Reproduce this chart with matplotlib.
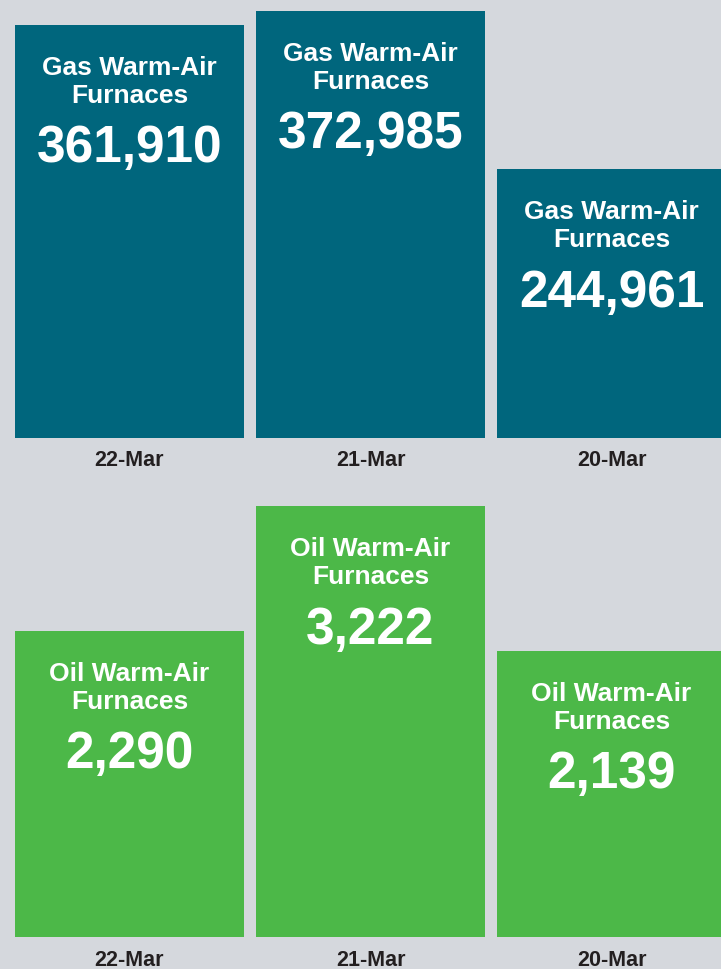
import matplotlib
matplotlib.use('Agg')
import matplotlib.pyplot as plt

dates = ['22-Mar', '21-Mar', '20-Mar']
gas_values = [361910, 372985, 244961]
oil_values = [2290, 3222, 2139]
gas_label = 'Gas Warm-Air\nFurnaces'
oil_label = 'Oil Warm-Air\nFurnaces'

BG = '#d5d8dd'
TEAL = '#00667d'
GREEN = '#4cb848'
DARK = '#231f20'
FONT = ['Liberation Sans', 'DejaVu Sans']

W, H = 721, 969
fig = plt.figure(figsize=(W / 100, H / 100), dpi=100, facecolor=BG)


def panel(top_px, base_px, values, color, label, ymin):
    ax = fig.add_axes([0, 1 - base_px / H, 1, (base_px - top_px) / H])
    ax.set_facecolor(BG)
    x = range(len(values))
    bars = ax.bar(x, values, width=0.95, color=color)
    ax.set_xlim(-0.537, 2.454)
    ax.set_ylim(ymin, max(values))
    for b, v in zip(bars, values):
        cx = b.get_x() + b.get_width() / 2
        ax.annotate(label, (cx, v), xytext=(0, -57), textcoords='offset pixels',
                    ha='center', va='center', color='white', fontsize=19,
                    fontweight='bold', family=FONT, linespacing=1.2)
        ax.annotate(f'{v:,}', (cx, v), xytext=(0, -124), textcoords='offset pixels',
                    ha='center', va='center', color='white', fontsize=37,
                    fontweight='bold', family=FONT)
    ax.set_xticks(list(x))
    ax.set_xticklabels(dates, fontsize=15.5, fontweight='bold', color=DARK, family=FONT)
    ax.tick_params(axis='x', length=0, pad=9)
    ax.set_yticks([])
    for s in ax.spines.values():
        s.set_visible(False)
    return ax


panel(11, 438, gas_values, TEAL, gas_label, 27000)
panel(506, 937, oil_values, GREEN, oil_label, 0)

fig.savefig('out.png', dpi=100, facecolor=BG)
